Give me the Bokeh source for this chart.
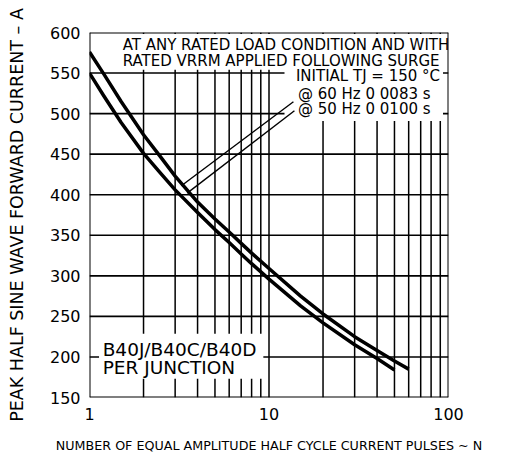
from bokeh.plotting import figure
from bokeh.models import Range1d, FixedTicker, NumeralTickFormatter, Label
from bokeh.embed import file_html
from bokeh.resources import INLINE

# ---- data ----
pulses_60hz = [1, 1.2, 1.5, 2, 2.5, 3, 4, 5, 6, 7, 8, 10, 15, 20, 30, 40, 50, 60]
current_60hz = [576, 549, 515, 474, 446, 423, 391, 370, 354, 340, 328, 309, 275, 253, 225, 208, 195, 185]
pulses_50hz = [1, 1.2, 1.5, 2, 2.5, 3, 4, 5, 6, 7, 8, 10, 15, 20, 30, 40, 50]
current_50hz = [550, 522, 489, 451, 426, 406, 378, 357, 341, 327, 315, 296, 263, 242, 215, 198, 184]

x_ticks = [1, 10, 100]
x_grid = [2, 3, 4, 5, 6, 7, 8, 9, 10, 20, 30, 40, 50, 60, 70, 80, 90]
y_ticks = [150, 200, 250, 300, 350, 400, 450, 500, 550, 600]
y_grid = [200, 250, 300, 350, 400, 450, 500, 550]

note_top = ["AT ANY RATED LOAD CONDITION AND WITH", "RATED VRRM APPLIED FOLLOWING SURGE"]
note_tj = "INITIAL TJ = 150 °C"
note_60 = "@ 60 Hz 0 0083 s"
note_50 = "@ 50 Hz 0 0100 s"
note_part = ["B40J/B40C/B40D", "PER JUNCTION"]

# leader lines: (start N, start A, end N, end A)
leader_60 = [13.68, 514.6, 3.25, 411]
leader_50 = [13.86, 503.5, 3.5, 402]

# white text panels hiding the grid: (left, right, bottom, top)
panel_top = [1, 100, 554, 598]
panel_tj = [12.2, 93.2, 491, 560]
panel_part = [1.13, 9.3, 173, 228.6]

FONT = "DejaVu Sans"

p = figure(x_axis_type="log", output_backend="svg", toolbar_location=None,
           frame_width=359, frame_height=365,
           min_border_left=89, min_border_right=50, min_border_top=32, min_border_bottom=58,
           x_range=Range1d(1, 100), y_range=Range1d(150, 600))
p.outline_line_color = None
p.xgrid.visible = False
p.ygrid.visible = False
p.background_fill_color = "white"
p.border_fill_color = "white"

# grid
p.segment(x0=x_grid, y0=[150] * len(x_grid), x1=x_grid, y1=[600] * len(x_grid),
          line_color="black", line_width=1.5)
p.segment(x0=[1] * len(y_grid), y0=y_grid, x1=[100] * len(y_grid), y1=y_grid,
          line_color="black", line_width=1.6)

# text panels
panels = [panel_top, panel_tj, panel_part]
p.quad(left=[b[0] for b in panels], right=[b[1] for b in panels],
       bottom=[b[2] for b in panels], top=[b[3] for b in panels],
       fill_color="white", line_color=None)

# frame
p.segment(x0=[1, 100, 1, 1], y0=[150, 150, 150, 600], x1=[1, 100, 100, 100], y1=[600, 600, 150, 600],
          line_color="black", line_width=2)

# curves
p.line(pulses_60hz, current_60hz, line_color="black", line_width=3.5, line_join="round")
p.line(pulses_50hz, current_50hz, line_color="black", line_width=3.5, line_join="round")

# leaders
for ld in (leader_60, leader_50):
    p.line([ld[0], ld[2]], [ld[1], ld[3]], line_color="black", line_width=1.4)

# axes
p.xaxis.ticker = FixedTicker(ticks=x_ticks, minor_ticks=[])
p.xaxis.formatter = NumeralTickFormatter(format="0")
p.yaxis.ticker = FixedTicker(ticks=y_ticks, minor_ticks=[])
for ax in (p.xaxis[0], p.yaxis[0]):
    ax.axis_line_color = None
    ax.major_tick_line_color = None
    ax.minor_tick_line_color = None
    ax.major_tick_out = 0
    ax.major_tick_in = 0
    ax.major_label_text_font = FONT
    ax.major_label_text_font_size = "16px"
    ax.major_label_text_color = "black"
    ax.axis_label_text_font = FONT
    ax.axis_label_text_font_style = "normal"
    ax.axis_label_text_color = "black"

p.yaxis.major_label_standoff = 9
p.yaxis.axis_label = "PEAK HALF SINE WAVE FORWARD CURRENT – A"
p.yaxis.axis_label_text_font_size = "17.5px"
p.yaxis.axis_label_standoff = 20

p.xaxis.major_label_standoff = 10
p.xaxis.axis_label = "NUMBER OF EQUAL AMPLITUDE HALF CYCLE CURRENT PULSES ~ N"
p.xaxis.axis_label_text_font_size = "12.7px"
p.xaxis.axis_label_standoff = 15

def note(x, y, text, size="15px", align="left"):
    p.add_layout(Label(x=x, y=y, text=text, text_font=FONT, text_font_size=size,
                       text_align=align, text_baseline="middle", text_color="black"))

note(1.53, 585.2, note_top[0])
note(1.53, 564.7, note_top[1])
note(89.7, 546.3, note_tj, align="right")
note(14.5, 524.1, note_60)
note(14.5, 505.8, note_50)
note(1.184, 208.9, note_part[0], size="18.5px")
note(1.184, 187.0, note_part[1], size="18.5px")

open("out.html", "w").write(file_html(p, INLINE))
